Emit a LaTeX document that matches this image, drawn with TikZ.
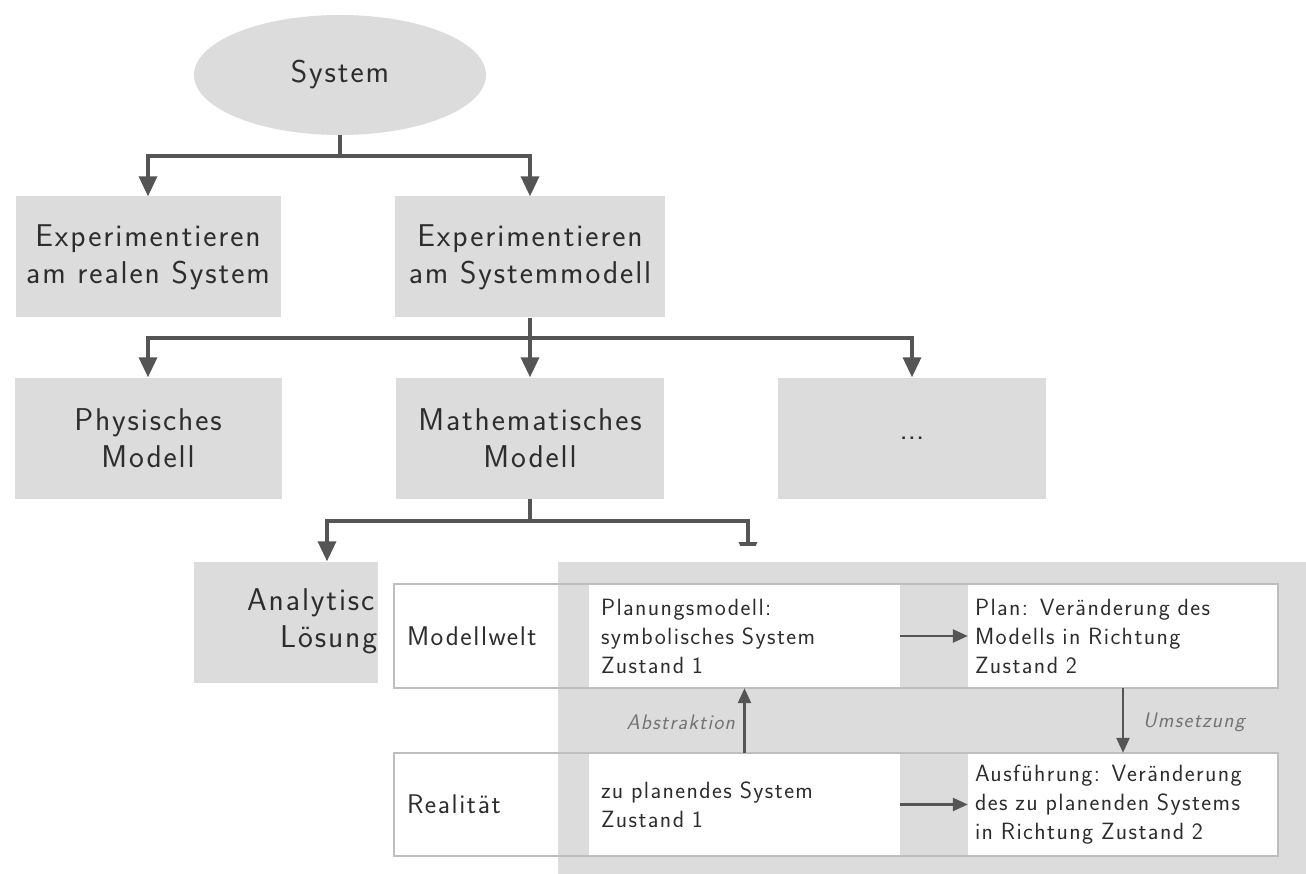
\documentclass[tikz,border=0pt]{standalone}
\usepackage{fontspec}
\setsansfont{Latin Modern Sans}[LetterSpace=6]
\usetikzlibrary{arrows.meta,shapes.geometric}
\definecolor{boxgray}{RGB}{220,220,220}
\definecolor{txt}{RGB}{45,45,45}
\definecolor{linec}{RGB}{85,85,85}
\definecolor{rowline}{RGB}{190,190,190}
\definecolor{labc}{RGB}{115,115,115}
\begin{document}
\begin{tikzpicture}[x=1pt,y=-1pt,
  every node/.style={text=txt},
  bigbox/.style={rectangle, fill=boxgray, draw=none, minimum height=121pt, align=center, inner sep=0pt,
    font=\sffamily\fontsize{31.5}{37}\selectfont},
  ell/.style={ellipse, fill=boxgray, draw=none, minimum width=292pt, minimum height=120pt, inner sep=0pt,
    font=\sffamily\fontsize{31.5}{37}\selectfont},
  conn/.style={draw=linec, line width=3.5pt, -{Triangle[width=18pt,length=20pt]}},
  stem/.style={draw=linec, line width=3.5pt},
  cellbox/.style={rectangle, fill=white, draw=none, align=left, inner ysep=0pt,
    font=\sffamily\fontsize{23.5}{29}\selectfont},
  rowlab/.style={rectangle, fill=white, draw=none, align=left, inner ysep=0pt,
    font=\sffamily\fontsize{27}{32}\selectfont},
  sarrow/.style={draw=linec, line width=2.5pt, -{Triangle[width=13pt,length=15pt]}},
  lab/.style={text=labc, font=\sffamily\itshape\fontsize{21}{25}\selectfont, inner sep=0pt},
  rowframe/.style={draw=rowline, line width=2pt}
]
\useasboundingbox (0,0) rectangle (1306,874);

% tree
\node[ell] (sys) at (340,75) {System};
\node[bigbox, minimum width=265pt] (e1) at (148,257) {Experimentieren\\am realen System};
\node[bigbox, minimum width=270pt] (e2) at (530,257) {Experimentieren\\am Systemmodell};
\node[bigbox, minimum width=267pt] (p1) at (148,438) {Physisches\\Modell};
\node[bigbox, minimum width=268pt] (m) at (530,438) {Mathematisches\\Modell};
\node[bigbox, minimum width=268pt] (dots) at (912,438) {\addfontfeature{LetterSpace=0}...};
\node[bigbox, minimum width=266pt] (a) at (327,622) {};
\node[anchor=west, inner sep=0pt, font=\sffamily\fontsize{31.5}{37}\selectfont] (at1) at (247,603) {Analytische};
\node[anchor=west, inner sep=0pt, font=\sffamily\fontsize{31.5}{37}\selectfont] (at2) at (280,640) {Lösung};
\coordinate (x2) at (748,562);

\coordinate (j1) at (340,156);
\coordinate (j2) at (530,338);
\coordinate (j3) at (530,521);
\draw[stem] (sys.south) -- (j1);
\draw[conn] (j1) -| (e1.north);
\draw[conn] (j1) -| (e2.north);
\draw[stem] (e2.south) -- (j2);
\draw[conn] (j2) -| (p1.north);
\draw[conn] (j2) -- (m.north);
\draw[conn] (j2) -| (dots.north);
\draw[stem] (m.south) -- (j3);
\draw[conn] (j3) -| (a.north);
\draw[conn] (j3) -| (x2);

% overlay
\fill[white] (378,546) rectangle (1306,874);
\fill[boxgray] (558,562) rectangle (1306,874);

\node[rowlab, minimum width=164pt, minimum height=104pt, text width=138pt, inner xsep=13pt] (l1) at (476,636) {Modellwelt};
\node[cellbox, minimum width=311pt, minimum height=104pt, text width=287pt, inner xsep=12pt] (c11) at (744.5,636) {Planungsmodell:\\symbolisches System\\Zustand 1};
\node[cellbox, minimum width=310pt, minimum height=104pt, text width=296pt, inner xsep=7pt] (c12) at (1123,636) {Plan: Veränderung des\\Modells in Richtung\\Zustand 2};

\node[rowlab, minimum width=164pt, minimum height=103pt, text width=138pt, inner xsep=13pt] (l2) at (476,804.5) {Realität};
\node[cellbox, minimum width=311pt, minimum height=103pt, text width=287pt, inner xsep=12pt] (c21) at (744.5,804.5) {zu planendes System\\Zustand 1};
\node[cellbox, minimum width=310pt, minimum height=103pt, text width=296pt, inner xsep=7pt] (c22) at (1123,804.5) {Ausführung: Veränderung\\des zu planenden Systems\\in Richtung Zustand 2};

\draw[rowframe] (l1.north west) rectangle (c12.south east);
\draw[rowframe] (l2.north west) rectangle (c22.south east);

\draw[sarrow] (c11.east) -- (c12.west);
\draw[sarrow] (c21.east) -- (c22.west);
\draw[sarrow] (c21.north) -- (c11.south);
\draw[sarrow] (c12.south) -- (c22.north);

\node[lab, anchor=east] (abs) at (735,722) {Abstraktion};
\node[lab, anchor=west] (ums) at (1143,722) {Umsetzung};
\end{tikzpicture}
\end{document}
